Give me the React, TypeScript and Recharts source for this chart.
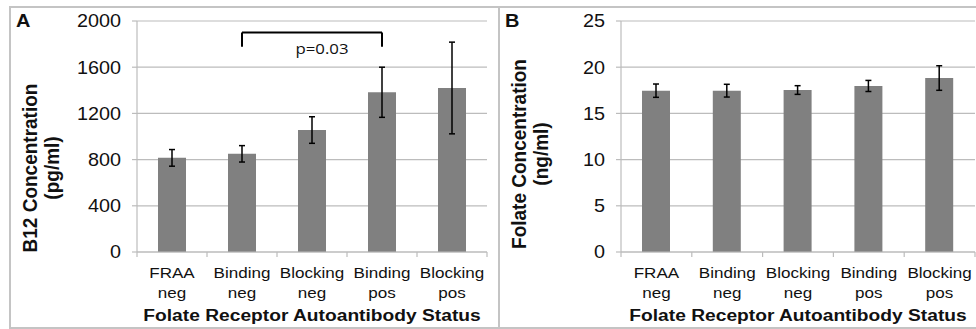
import React from 'react';
import { BarChart, Bar, XAxis, YAxis, CartesianGrid, ErrorBar, ReferenceLine } from 'recharts';

const categories = ['FRAA neg', 'Binding neg', 'Blocking neg', 'Binding pos', 'Blocking pos'];
const b12Means = [815, 850, 1056, 1383, 1420];
const b12Errors = [72, 71, 115, 217, 397];
const folateMeans = [17.46, 17.46, 17.53, 17.97, 18.83];
const folateErrors = [0.72, 0.69, 0.47, 0.6, 1.33];
const b12Ticks = [0, 400, 800, 1200, 1600, 2000];
const folateTicks = [0, 5, 10, 15, 20, 25];
const sigFrom = 'Binding neg';
const sigTo = 'Binding pos';
const sigTop = 1900;
const sigFoot = 1778;
const sigLabel = 'p=0.03';
const xTitle = 'Folate Receptor Autoantibody Status';
const b12Title = ['B12 Concentration', '(pg/ml)'];
const folateTitle = ['Folate Concentration', '(ng/ml)'];
const panelLetters = ['A', 'B'];

const b12Data = categories.map((name, i) => ({ name, value: b12Means[i], err: b12Errors[i] }));
const folateData = categories.map((name, i) => ({ name, value: folateMeans[i], err: folateErrors[i] }));

const FONT = '"Liberation Sans", Arial, sans-serif';
const INK = '#111';
const GRID = '#bcbcbc';
const FRAME = '#c4c4c4';
const BAR = '#808080';

function SText(props: any) {
  const { x, y, sx = 1.1, anchor = 'middle', size, weight = 400, family = FONT, rotate = 0, children } = props;
  const t = `translate(${x},${y}) scale(${sx},1)` + (rotate ? ` rotate(${rotate})` : '');
  return (
    <text transform={t} textAnchor={anchor} fontSize={size} fontWeight={weight} fontFamily={family} fill={INK}>
      {children}
    </text>
  );
}

const makeXTick = (band: number, count: number) => (props: any) => {
  const { x, y, payload, index } = props;
  const parts = String(payload.value).split(' ');
  const half = band / 2;
  return (
    <g>
      <line x1={x - half} x2={x - half} y1={y} y2={y + 5} stroke={GRID} strokeWidth={1.2} />
      {index === count - 1 && <line x1={x + half} x2={x + half} y1={y} y2={y + 5} stroke={GRID} strokeWidth={1.2} />}
      <SText x={x} y={y + 26} size={15.5}>{parts[0]}</SText>
      <SText x={x} y={y + 46} size={15.5}>{parts[1]}</SText>
    </g>
  );
};

const YTick = (props: any) => (
  <SText x={props.x} y={props.y + 6.4} anchor="end" size={18}>{props.payload.value}</SText>
);

const xTitleContent = (props: any) => {
  const vb = props.viewBox || {};
  return (
    <SText x={vb.x + vb.width / 2} y={vb.y + 69} size={17} weight={700} sx={1.13}>{xTitle}</SText>
  );
};

const makeYTitle = (lines: string[], letter: string, dyCenter: number) => (props: any) => {
  const vb = props.viewBox || {};
  const cy = vb.y + vb.height / 2 + dyCenter;
  return (
    <g>
      <SText x={6} y={27} anchor="start" size={19} weight={700} sx={1.05}>{letter}</SText>
      <SText x={vb.x + 26.7} y={cy} size={19} weight={700} rotate={-90} sx={1.05}>{lines[0]}</SText>
      <SText x={vb.x + 48.5} y={cy} size={19} weight={700} rotate={-90} sx={1.05}>{lines[1]}</SText>
    </g>
  );
};

const pContent = (props: any) => {
  const vb = props.viewBox || {};
  return (
    <SText x={vb.x + vb.width / 2 + 10} y={vb.y + 21} size={15} sx={1.12} family='"Open Sans", sans-serif'>
      {sigLabel}
    </SText>
  );
};

const A_W = 489;
const A_M = { top: 21, right: 12, bottom: 0, left: 0 };
const A_YW = 127;
const B_W = 477;
const B_M = { top: 21, right: 1, bottom: 0, left: 0 };
const B_YW = 122;
const H = 329;
const X_H = 77;

const xTickA = makeXTick((A_W - A_M.left - A_M.right - A_YW) / categories.length, categories.length);
const xTickB = makeXTick((B_W - B_M.left - B_M.right - B_YW) / categories.length, categories.length);

export default function App() {
  return (
    <div style={{ position: 'absolute', left: 0, top: 0, width: 976, height: 329, background: '#fff', overflow: 'hidden' }}>
      <div style={{ position: 'absolute', left: 10, top: 6, width: 966, height: 2, background: FRAME }} />
      <div style={{ position: 'absolute', left: 10, top: 327, width: 966, height: 2, background: FRAME }} />
      <div style={{ position: 'absolute', left: 9, top: 6, width: 2, height: 323, background: FRAME }} />
      <div style={{ position: 'absolute', left: 498, top: 6, width: 2, height: 323, background: FRAME }} />

      <div style={{ position: 'absolute', left: 10, top: 0 }}>
        <BarChart width={A_W} height={H} data={b12Data} margin={A_M} barSize={28}>
          <CartesianGrid vertical={false} stroke={GRID} strokeWidth={1.2} />
          <XAxis dataKey="name" height={X_H} tickSize={0} tickMargin={0} tick={xTickA} tickLine={false}
            axisLine={{ stroke: GRID, strokeWidth: 1.2 }} interval={0} label={{ content: xTitleContent }} />
          <YAxis width={A_YW} domain={[0, 2000]} ticks={b12Ticks} tick={YTick} tickSize={5} tickMargin={11}
            axisLine={{ stroke: GRID, strokeWidth: 1.2 }} tickLine={{ stroke: GRID, strokeWidth: 1.2 }}
            label={{ content: makeYTitle(b12Title, panelLetters[0], 31.5) }} />
          <Bar dataKey="value" fill={BAR} isAnimationActive={false}>
            <ErrorBar dataKey="err" width={3} stroke="#000" strokeWidth={1.5} />
          </Bar>
          <ReferenceLine segment={[{ x: sigFrom, y: sigFoot }, { x: sigFrom, y: sigTop }]} stroke="#000" strokeWidth={2} />
          <ReferenceLine segment={[{ x: sigTo, y: sigFoot }, { x: sigTo, y: sigTop }]} stroke="#000" strokeWidth={2} />
          <ReferenceLine segment={[{ x: sigFrom, y: sigTop }, { x: sigTo, y: sigTop }]} stroke="#000" strokeWidth={2}
            label={{ content: pContent }} />
        </BarChart>
      </div>

      <div style={{ position: 'absolute', left: 499, top: 0 }}>
        <BarChart width={B_W} height={H} data={folateData} margin={B_M} barSize={28}>
          <CartesianGrid vertical={false} stroke={GRID} strokeWidth={1.2} />
          <XAxis dataKey="name" height={X_H} tickSize={0} tickMargin={0} tick={xTickB} tickLine={false}
            axisLine={{ stroke: GRID, strokeWidth: 1.2 }} interval={0} label={{ content: xTitleContent }} />
          <YAxis width={B_YW} domain={[0, 25]} ticks={folateTicks} tick={YTick} tickSize={5} tickMargin={11}
            axisLine={{ stroke: GRID, strokeWidth: 1.2 }} tickLine={{ stroke: GRID, strokeWidth: 1.2 }}
            label={{ content: makeYTitle(folateTitle, panelLetters[1], 17.5) }} />
          <Bar dataKey="value" fill={BAR} isAnimationActive={false}>
            <ErrorBar dataKey="err" width={3} stroke="#000" strokeWidth={1.5} />
          </Bar>
        </BarChart>
      </div>
    </div>
  );
}
